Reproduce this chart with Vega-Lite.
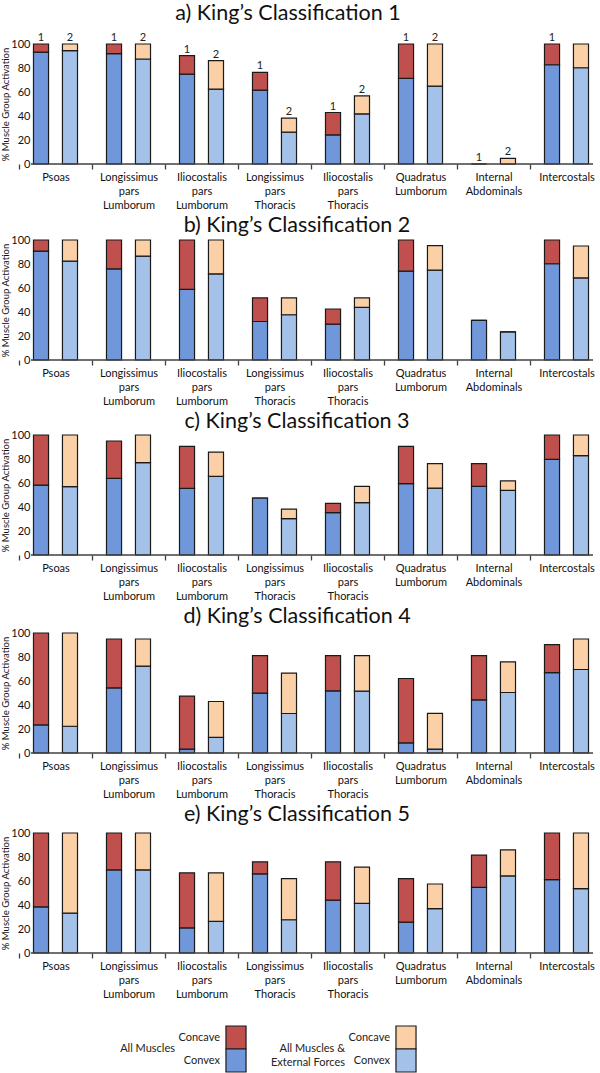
{
  "$schema": "https://vega.github.io/schema/vega-lite/v6.json",
  "padding": {"left": 0, "top": 2, "right": 0, "bottom": 0},
  "spacing": 4,
  "datasets": {
    "bars": [
      {"c": "a", "m": "Psoas", "s": "1", "convex": 93.3, "total": 100, "label": "1"},
      {"c": "a", "m": "Psoas", "s": "2", "convex": 94.4, "total": 100, "label": "2"},
      {"c": "a", "m": "Longissimus pars Lumborum", "s": "1", "convex": 91.9, "total": 100, "label": "1"},
      {"c": "a", "m": "Longissimus pars Lumborum", "s": "2", "convex": 87.5, "total": 100, "label": "2"},
      {"c": "a", "m": "Iliocostalis pars Lumborum", "s": "1", "convex": 74.9, "total": 90.3, "label": "1"},
      {"c": "a", "m": "Iliocostalis pars Lumborum", "s": "2", "convex": 62.4, "total": 86.1, "label": "2"},
      {"c": "a", "m": "Longissimus pars Thoracis", "s": "1", "convex": 61.6, "total": 76.3, "label": "1"},
      {"c": "a", "m": "Longissimus pars Thoracis", "s": "2", "convex": 26.5, "total": 38.2, "label": "2"},
      {"c": "a", "m": "Iliocostalis pars Thoracis", "s": "1", "convex": 24.2, "total": 42.9, "label": "1"},
      {"c": "a", "m": "Iliocostalis pars Thoracis", "s": "2", "convex": 41.8, "total": 56.8, "label": "2"},
      {"c": "a", "m": "Quadratus Lumborum", "s": "1", "convex": 71.3, "total": 100, "label": "1"},
      {"c": "a", "m": "Quadratus Lumborum", "s": "2", "convex": 64.9, "total": 100, "label": "2"},
      {"c": "a", "m": "Internal Abdominals", "s": "1", "convex": 0, "total": 0, "label": "1"},
      {"c": "a", "m": "Internal Abdominals", "s": "2", "convex": 0, "total": 4.7, "label": "2"},
      {"c": "a", "m": "Intercostals", "s": "1", "convex": 82.7, "total": 100, "label": "1"},
      {"c": "a", "m": "Intercostals", "s": "2", "convex": 80.2, "total": 100},

      {"c": "b", "m": "Psoas", "s": "1", "convex": 90.8, "total": 100},
      {"c": "b", "m": "Psoas", "s": "2", "convex": 82.4, "total": 100},
      {"c": "b", "m": "Longissimus pars Lumborum", "s": "1", "convex": 76.0, "total": 100},
      {"c": "b", "m": "Longissimus pars Lumborum", "s": "2", "convex": 86.6, "total": 100},
      {"c": "b", "m": "Iliocostalis pars Lumborum", "s": "1", "convex": 58.9, "total": 100},
      {"c": "b", "m": "Iliocostalis pars Lumborum", "s": "2", "convex": 71.8, "total": 100},
      {"c": "b", "m": "Longissimus pars Thoracis", "s": "1", "convex": 32.1, "total": 51.7},
      {"c": "b", "m": "Longissimus pars Thoracis", "s": "2", "convex": 37.7, "total": 51.7},
      {"c": "b", "m": "Iliocostalis pars Thoracis", "s": "1", "convex": 29.9, "total": 42.5},
      {"c": "b", "m": "Iliocostalis pars Thoracis", "s": "2", "convex": 43.9, "total": 51.7},
      {"c": "b", "m": "Quadratus Lumborum", "s": "1", "convex": 74.0, "total": 100},
      {"c": "b", "m": "Quadratus Lumborum", "s": "2", "convex": 74.9, "total": 95.3},
      {"c": "b", "m": "Internal Abdominals", "s": "1", "convex": 33.0, "total": 33.0},
      {"c": "b", "m": "Internal Abdominals", "s": "2", "convex": 23.5, "total": 23.5},
      {"c": "b", "m": "Intercostals", "s": "1", "convex": 80.2, "total": 100},
      {"c": "b", "m": "Intercostals", "s": "2", "convex": 68.4, "total": 95.0},

      {"c": "c", "m": "Psoas", "s": "1", "convex": 58.3, "total": 100},
      {"c": "c", "m": "Psoas", "s": "2", "convex": 56.9, "total": 100},
      {"c": "c", "m": "Longissimus pars Lumborum", "s": "1", "convex": 63.9, "total": 95.0},
      {"c": "c", "m": "Longissimus pars Lumborum", "s": "2", "convex": 76.9, "total": 100},
      {"c": "c", "m": "Iliocostalis pars Lumborum", "s": "1", "convex": 55.6, "total": 90.6},
      {"c": "c", "m": "Iliocostalis pars Lumborum", "s": "2", "convex": 65.6, "total": 85.8},
      {"c": "c", "m": "Longissimus pars Thoracis", "s": "1", "convex": 47.5, "total": 47.5},
      {"c": "c", "m": "Longissimus pars Thoracis", "s": "2", "convex": 30.3, "total": 38.3},
      {"c": "c", "m": "Iliocostalis pars Thoracis", "s": "1", "convex": 35.3, "total": 43.1},
      {"c": "c", "m": "Iliocostalis pars Thoracis", "s": "2", "convex": 43.6, "total": 57.2},
      {"c": "c", "m": "Quadratus Lumborum", "s": "1", "convex": 59.4, "total": 90.6},
      {"c": "c", "m": "Quadratus Lumborum", "s": "2", "convex": 55.8, "total": 76.1},
      {"c": "c", "m": "Internal Abdominals", "s": "1", "convex": 57.2, "total": 76.1},
      {"c": "c", "m": "Internal Abdominals", "s": "2", "convex": 53.9, "total": 61.7},
      {"c": "c", "m": "Intercostals", "s": "1", "convex": 79.7, "total": 100},
      {"c": "c", "m": "Intercostals", "s": "2", "convex": 82.8, "total": 100},

      {"c": "d", "m": "Psoas", "s": "1", "convex": 23.4, "total": 100},
      {"c": "d", "m": "Psoas", "s": "2", "convex": 22.3, "total": 100},
      {"c": "d", "m": "Longissimus pars Lumborum", "s": "1", "convex": 54.3, "total": 95.0},
      {"c": "d", "m": "Longissimus pars Lumborum", "s": "2", "convex": 72.4, "total": 95.0},
      {"c": "d", "m": "Iliocostalis pars Lumborum", "s": "1", "convex": 3.3, "total": 47.4},
      {"c": "d", "m": "Iliocostalis pars Lumborum", "s": "2", "convex": 13.1, "total": 42.9},
      {"c": "d", "m": "Longissimus pars Thoracis", "s": "1", "convex": 49.9, "total": 81.1},
      {"c": "d", "m": "Longissimus pars Thoracis", "s": "2", "convex": 32.9, "total": 66.6},
      {"c": "d", "m": "Iliocostalis pars Thoracis", "s": "1", "convex": 51.8, "total": 81.1},
      {"c": "d", "m": "Iliocostalis pars Thoracis", "s": "2", "convex": 51.5, "total": 81.1},
      {"c": "d", "m": "Quadratus Lumborum", "s": "1", "convex": 8.4, "total": 62.1},
      {"c": "d", "m": "Quadratus Lumborum", "s": "2", "convex": 3.3, "total": 33.1},
      {"c": "d", "m": "Internal Abdominals", "s": "1", "convex": 44.3, "total": 81.1},
      {"c": "d", "m": "Internal Abdominals", "s": "2", "convex": 50.4, "total": 76.0},
      {"c": "d", "m": "Intercostals", "s": "1", "convex": 66.9, "total": 90.3},
      {"c": "d", "m": "Intercostals", "s": "2", "convex": 69.6, "total": 95.0},

      {"c": "e", "m": "Psoas", "s": "1", "convex": 38.5, "total": 100},
      {"c": "e", "m": "Psoas", "s": "2", "convex": 33.2, "total": 100},
      {"c": "e", "m": "Longissimus pars Lumborum", "s": "1", "convex": 69.3, "total": 100},
      {"c": "e", "m": "Longissimus pars Lumborum", "s": "2", "convex": 69.3, "total": 100},
      {"c": "e", "m": "Iliocostalis pars Lumborum", "s": "1", "convex": 20.9, "total": 66.8},
      {"c": "e", "m": "Iliocostalis pars Lumborum", "s": "2", "convex": 26.3, "total": 66.8},
      {"c": "e", "m": "Longissimus pars Thoracis", "s": "1", "convex": 65.9, "total": 76.0},
      {"c": "e", "m": "Longissimus pars Thoracis", "s": "2", "convex": 27.7, "total": 62.0},
      {"c": "e", "m": "Iliocostalis pars Thoracis", "s": "1", "convex": 44.1, "total": 76.0},
      {"c": "e", "m": "Iliocostalis pars Thoracis", "s": "2", "convex": 41.3, "total": 71.5},
      {"c": "e", "m": "Quadratus Lumborum", "s": "1", "convex": 25.7, "total": 62.0},
      {"c": "e", "m": "Quadratus Lumborum", "s": "2", "convex": 36.9, "total": 57.5},
      {"c": "e", "m": "Internal Abdominals", "s": "1", "convex": 54.7, "total": 81.6},
      {"c": "e", "m": "Internal Abdominals", "s": "2", "convex": 64.2, "total": 86.0},
      {"c": "e", "m": "Intercostals", "s": "1", "convex": 61.2, "total": 100},
      {"c": "e", "m": "Intercostals", "s": "2", "convex": 53.6, "total": 100}
    ],
    "legend": [
      {"g": "All Muscles", "p": "Concave"},
      {"g": "All Muscles", "p": "Convex"},
      {"g": "All Muscles & External Forces", "p": "Concave"},
      {"g": "All Muscles & External Forces", "p": "Convex"}
    ],
    "legendGroups": [
      {"g": "All Muscles", "label": "All Muscles"},
      {"g": "All Muscles & External Forces", "label": "All Muscles &\nExternal Forces"}
    ]
  },
  "vconcat": [
    {
      "width": 562, "height": 120,
      "title": {"text": "a) King’s Classification 1", "offset": 8, "dx": -24},
      "data": {"name": "bars"},
      "transform": [{"filter": "datum.c === 'a'"}],
      "layer": [
        {"mark": {"type": "bar", "stroke": "#1a1a1a", "strokeWidth": 1.2},
         "encoding": {
           "x": {"field": "m", "type": "nominal", "sort": ["Psoas", "Longissimus pars Lumborum", "Iliocostalis pars Lumborum", "Longissimus pars Thoracis", "Iliocostalis pars Thoracis", "Quadratus Lumborum", "Internal Abdominals", "Intercostals"], "scale": {"range": [-12, 572], "paddingInner": 0, "paddingOuter": 0}, "axis": {"title": null, "domain": false, "tickBand": "extent", "tickSize": 5, "tickColor": "#404040", "tickWidth": 1.3, "labelAngle": 0, "labelExpr": "split(datum.label, ' ')", "labelFontSize": 11, "labelLineHeight": 14, "labelPadding": 2}},
           "xOffset": {"field": "s", "type": "nominal", "scale": {"paddingInner": 0.48, "paddingOuter": 0.5}},
           "y": {"field": "convex", "type": "quantitative", "stack": null, "scale": {"domain": [0, 100]}, "axis": {"values": [0, 20, 40, 60, 80, 100], "labelOverlap": false, "labelFontSize": 11, "labelPadding": 1, "titlePadding": 0, "title": "% Muscle Group Activation"}},
           "color": {"condition": {"test": "datum.s === '1'", "value": "#6f97da"}, "value": "#a3c1e9"}
         }},
        {"mark": {"type": "bar", "stroke": "#1a1a1a", "strokeWidth": 1.2},
         "encoding": {
           "x": {"field": "m", "type": "nominal", "sort": ["Psoas", "Longissimus pars Lumborum", "Iliocostalis pars Lumborum", "Longissimus pars Thoracis", "Iliocostalis pars Thoracis", "Quadratus Lumborum", "Internal Abdominals", "Intercostals"]},
           "xOffset": {"field": "s", "type": "nominal"},
           "y": {"field": "convex", "type": "quantitative", "stack": null, "axis": {"values": [0, 20, 40, 60, 80, 100], "labelOverlap": false, "labelFontSize": 11, "labelPadding": 1, "titlePadding": 0, "title": "% Muscle Group Activation"}},
           "y2": {"field": "total"},
           "color": {"condition": {"test": "datum.s === '1'", "value": "#c0504d"}, "value": "#fbd0a6"}
         }},
        {"transform": [{"filter": "isValid(datum.label)"}],
         "mark": {"type": "text", "baseline": "bottom", "dy": -1, "fontSize": 11, "color": "#222"},
         "encoding": {
           "x": {"field": "m", "type": "nominal", "sort": ["Psoas", "Longissimus pars Lumborum", "Iliocostalis pars Lumborum", "Longissimus pars Thoracis", "Iliocostalis pars Thoracis", "Quadratus Lumborum", "Internal Abdominals", "Intercostals"]},
           "xOffset": {"field": "s", "type": "nominal"},
           "y": {"field": "total", "type": "quantitative", "stack": null, "axis": {"values": [0, 20, 40, 60, 80, 100], "labelOverlap": false, "labelFontSize": 11, "labelPadding": 1, "titlePadding": 0, "title": "% Muscle Group Activation"}},
           "text": {"field": "label"}
         }},
        {"data": {"values": [{}]}, "mark": {"type": "rule", "color": "#404040", "strokeWidth": 1.3}, "encoding": {"y": {"datum": 0, "axis": {"values": [0, 20, 40, 60, 80, 100], "labelOverlap": false, "labelFontSize": 11, "labelPadding": 1, "titlePadding": 0, "title": "% Muscle Group Activation"}}}}
      ]
    },
    {
      "width": 562, "height": 120,
      "title": {"text": "b) King’s Classification 2", "offset": -2, "dx": -15},
      "data": {"name": "bars"},
      "transform": [{"filter": "datum.c === 'b'"}],
      "layer": [
        {"mark": {"type": "bar", "stroke": "#1a1a1a", "strokeWidth": 1.2},
         "encoding": {
           "x": {"field": "m", "type": "nominal", "sort": ["Psoas", "Longissimus pars Lumborum", "Iliocostalis pars Lumborum", "Longissimus pars Thoracis", "Iliocostalis pars Thoracis", "Quadratus Lumborum", "Internal Abdominals", "Intercostals"], "scale": {"range": [-12, 572], "paddingInner": 0, "paddingOuter": 0}, "axis": {"title": null, "domain": false, "tickBand": "extent", "tickSize": 5, "tickColor": "#404040", "tickWidth": 1.3, "labelAngle": 0, "labelExpr": "split(datum.label, ' ')", "labelFontSize": 11, "labelLineHeight": 14, "labelPadding": 2}},
           "xOffset": {"field": "s", "type": "nominal", "scale": {"paddingInner": 0.48, "paddingOuter": 0.5}},
           "y": {"field": "convex", "type": "quantitative", "stack": null, "scale": {"domain": [0, 100]}, "axis": {"values": [0, 20, 40, 60, 80, 100], "labelOverlap": false, "labelFontSize": 11, "labelPadding": 1, "titlePadding": 0, "title": "% Muscle Group Activation"}},
           "color": {"condition": {"test": "datum.s === '1'", "value": "#6f97da"}, "value": "#a3c1e9"}
         }},
        {"mark": {"type": "bar", "stroke": "#1a1a1a", "strokeWidth": 1.2},
         "encoding": {
           "x": {"field": "m", "type": "nominal", "sort": ["Psoas", "Longissimus pars Lumborum", "Iliocostalis pars Lumborum", "Longissimus pars Thoracis", "Iliocostalis pars Thoracis", "Quadratus Lumborum", "Internal Abdominals", "Intercostals"]},
           "xOffset": {"field": "s", "type": "nominal"},
           "y": {"field": "convex", "type": "quantitative", "stack": null, "axis": {"values": [0, 20, 40, 60, 80, 100], "labelOverlap": false, "labelFontSize": 11, "labelPadding": 1, "titlePadding": 0, "title": "% Muscle Group Activation"}},
           "y2": {"field": "total"},
           "color": {"condition": {"test": "datum.s === '1'", "value": "#c0504d"}, "value": "#fbd0a6"}
         }},
        {"data": {"values": [{}]}, "mark": {"type": "rule", "color": "#404040", "strokeWidth": 1.3}, "encoding": {"y": {"datum": 0, "axis": {"values": [0, 20, 40, 60, 80, 100], "labelOverlap": false, "labelFontSize": 11, "labelPadding": 1, "titlePadding": 0, "title": "% Muscle Group Activation"}}}}
      ]
    },
    {
      "width": 562, "height": 120,
      "title": {"text": "c) King’s Classification 3", "offset": -3, "dx": -15},
      "data": {"name": "bars"},
      "transform": [{"filter": "datum.c === 'c'"}],
      "layer": [
        {"mark": {"type": "bar", "stroke": "#1a1a1a", "strokeWidth": 1.2},
         "encoding": {
           "x": {"field": "m", "type": "nominal", "sort": ["Psoas", "Longissimus pars Lumborum", "Iliocostalis pars Lumborum", "Longissimus pars Thoracis", "Iliocostalis pars Thoracis", "Quadratus Lumborum", "Internal Abdominals", "Intercostals"], "scale": {"range": [-12, 572], "paddingInner": 0, "paddingOuter": 0}, "axis": {"title": null, "domain": false, "tickBand": "extent", "tickSize": 5, "tickColor": "#404040", "tickWidth": 1.3, "labelAngle": 0, "labelExpr": "split(datum.label, ' ')", "labelFontSize": 11, "labelLineHeight": 14, "labelPadding": 2}},
           "xOffset": {"field": "s", "type": "nominal", "scale": {"paddingInner": 0.48, "paddingOuter": 0.5}},
           "y": {"field": "convex", "type": "quantitative", "stack": null, "scale": {"domain": [0, 100]}, "axis": {"values": [0, 20, 40, 60, 80, 100], "labelOverlap": false, "labelFontSize": 11, "labelPadding": 1, "titlePadding": 0, "title": "% Muscle Group Activation"}},
           "color": {"condition": {"test": "datum.s === '1'", "value": "#6f97da"}, "value": "#a3c1e9"}
         }},
        {"mark": {"type": "bar", "stroke": "#1a1a1a", "strokeWidth": 1.2},
         "encoding": {
           "x": {"field": "m", "type": "nominal", "sort": ["Psoas", "Longissimus pars Lumborum", "Iliocostalis pars Lumborum", "Longissimus pars Thoracis", "Iliocostalis pars Thoracis", "Quadratus Lumborum", "Internal Abdominals", "Intercostals"]},
           "xOffset": {"field": "s", "type": "nominal"},
           "y": {"field": "convex", "type": "quantitative", "stack": null, "axis": {"values": [0, 20, 40, 60, 80, 100], "labelOverlap": false, "labelFontSize": 11, "labelPadding": 1, "titlePadding": 0, "title": "% Muscle Group Activation"}},
           "y2": {"field": "total"},
           "color": {"condition": {"test": "datum.s === '1'", "value": "#c0504d"}, "value": "#fbd0a6"}
         }},
        {"data": {"values": [{}]}, "mark": {"type": "rule", "color": "#404040", "strokeWidth": 1.3}, "encoding": {"y": {"datum": 0, "axis": {"values": [0, 20, 40, 60, 80, 100], "labelOverlap": false, "labelFontSize": 11, "labelPadding": 1, "titlePadding": 0, "title": "% Muscle Group Activation"}}}}
      ]
    },
    {
      "width": 562, "height": 120,
      "title": {"text": "d) King’s Classification 4", "offset": 0, "dx": -15},
      "data": {"name": "bars"},
      "transform": [{"filter": "datum.c === 'd'"}],
      "layer": [
        {"mark": {"type": "bar", "stroke": "#1a1a1a", "strokeWidth": 1.2},
         "encoding": {
           "x": {"field": "m", "type": "nominal", "sort": ["Psoas", "Longissimus pars Lumborum", "Iliocostalis pars Lumborum", "Longissimus pars Thoracis", "Iliocostalis pars Thoracis", "Quadratus Lumborum", "Internal Abdominals", "Intercostals"], "scale": {"range": [-12, 572], "paddingInner": 0, "paddingOuter": 0}, "axis": {"title": null, "domain": false, "tickBand": "extent", "tickSize": 5, "tickColor": "#404040", "tickWidth": 1.3, "labelAngle": 0, "labelExpr": "split(datum.label, ' ')", "labelFontSize": 11, "labelLineHeight": 14, "labelPadding": 2}},
           "xOffset": {"field": "s", "type": "nominal", "scale": {"paddingInner": 0.48, "paddingOuter": 0.5}},
           "y": {"field": "convex", "type": "quantitative", "stack": null, "scale": {"domain": [0, 100]}, "axis": {"values": [0, 20, 40, 60, 80, 100], "labelOverlap": false, "labelFontSize": 11, "labelPadding": 1, "titlePadding": 0, "title": "% Muscle Group Activation"}},
           "color": {"condition": {"test": "datum.s === '1'", "value": "#6f97da"}, "value": "#a3c1e9"}
         }},
        {"mark": {"type": "bar", "stroke": "#1a1a1a", "strokeWidth": 1.2},
         "encoding": {
           "x": {"field": "m", "type": "nominal", "sort": ["Psoas", "Longissimus pars Lumborum", "Iliocostalis pars Lumborum", "Longissimus pars Thoracis", "Iliocostalis pars Thoracis", "Quadratus Lumborum", "Internal Abdominals", "Intercostals"]},
           "xOffset": {"field": "s", "type": "nominal"},
           "y": {"field": "convex", "type": "quantitative", "stack": null, "axis": {"values": [0, 20, 40, 60, 80, 100], "labelOverlap": false, "labelFontSize": 11, "labelPadding": 1, "titlePadding": 0, "title": "% Muscle Group Activation"}},
           "y2": {"field": "total"},
           "color": {"condition": {"test": "datum.s === '1'", "value": "#c0504d"}, "value": "#fbd0a6"}
         }},
        {"data": {"values": [{}]}, "mark": {"type": "rule", "color": "#404040", "strokeWidth": 1.3}, "encoding": {"y": {"datum": 0, "axis": {"values": [0, 20, 40, 60, 80, 100], "labelOverlap": false, "labelFontSize": 11, "labelPadding": 1, "titlePadding": 0, "title": "% Muscle Group Activation"}}}}
      ]
    },
    {
      "width": 562, "height": 120,
      "title": {"text": "e) King’s Classification 5", "offset": 2, "dx": -15},
      "data": {"name": "bars"},
      "transform": [{"filter": "datum.c === 'e'"}],
      "layer": [
        {"mark": {"type": "bar", "stroke": "#1a1a1a", "strokeWidth": 1.2},
         "encoding": {
           "x": {"field": "m", "type": "nominal", "sort": ["Psoas", "Longissimus pars Lumborum", "Iliocostalis pars Lumborum", "Longissimus pars Thoracis", "Iliocostalis pars Thoracis", "Quadratus Lumborum", "Internal Abdominals", "Intercostals"], "scale": {"range": [-12, 572], "paddingInner": 0, "paddingOuter": 0}, "axis": {"title": null, "domain": false, "tickBand": "extent", "tickSize": 5, "tickColor": "#404040", "tickWidth": 1.3, "labelAngle": 0, "labelExpr": "split(datum.label, ' ')", "labelFontSize": 11, "labelLineHeight": 14, "labelPadding": 2}},
           "xOffset": {"field": "s", "type": "nominal", "scale": {"paddingInner": 0.48, "paddingOuter": 0.5}},
           "y": {"field": "convex", "type": "quantitative", "stack": null, "scale": {"domain": [0, 100]}, "axis": {"values": [0, 20, 40, 60, 80, 100], "labelOverlap": false, "labelFontSize": 11, "labelPadding": 1, "titlePadding": 0, "title": "% Muscle Group Activation"}},
           "color": {"condition": {"test": "datum.s === '1'", "value": "#6f97da"}, "value": "#a3c1e9"}
         }},
        {"mark": {"type": "bar", "stroke": "#1a1a1a", "strokeWidth": 1.2},
         "encoding": {
           "x": {"field": "m", "type": "nominal", "sort": ["Psoas", "Longissimus pars Lumborum", "Iliocostalis pars Lumborum", "Longissimus pars Thoracis", "Iliocostalis pars Thoracis", "Quadratus Lumborum", "Internal Abdominals", "Intercostals"]},
           "xOffset": {"field": "s", "type": "nominal"},
           "y": {"field": "convex", "type": "quantitative", "stack": null, "axis": {"values": [0, 20, 40, 60, 80, 100], "labelOverlap": false, "labelFontSize": 11, "labelPadding": 1, "titlePadding": 0, "title": "% Muscle Group Activation"}},
           "y2": {"field": "total"},
           "color": {"condition": {"test": "datum.s === '1'", "value": "#c0504d"}, "value": "#fbd0a6"}
         }},
        {"data": {"values": [{}]}, "mark": {"type": "rule", "color": "#404040", "strokeWidth": 1.3}, "encoding": {"y": {"datum": 0, "axis": {"values": [0, 20, 40, 60, 80, 100], "labelOverlap": false, "labelFontSize": 11, "labelPadding": 1, "titlePadding": 0, "title": "% Muscle Group Activation"}}}}
      ]
    },
    {
      "width": 562, "height": 69,
      "layer": [
        {"data": {"name": "legend"},
         "mark": {"type": "bar", "stroke": "#1a1a1a", "strokeWidth": 1.2},
         "encoding": {
           "x": {"field": "g", "type": "nominal", "scale": {"domain": ["All Muscles", "All Muscles & External Forces"], "range": [120, 460], "paddingInner": 0.882, "paddingOuter": 0.441}, "axis": null},
           "y": {"field": "p", "type": "nominal", "scale": {"domain": ["Concave", "Convex"], "range": [23, 69], "paddingInner": 0, "paddingOuter": 0}, "axis": null},
           "color": {"condition": [
             {"test": "datum.g === 'All Muscles' && datum.p === 'Concave'", "value": "#c0504d"},
             {"test": "datum.g === 'All Muscles' && datum.p === 'Convex'", "value": "#6f97da"},
             {"test": "datum.p === 'Concave'", "value": "#fbd0a6"}
           ], "value": "#a3c1e9"}
         }},
        {"data": {"name": "legend"},
         "mark": {"type": "text", "align": "right", "dx": -16, "fontSize": 11, "color": "#222"},
         "encoding": {
           "x": {"field": "g", "type": "nominal"},
           "y": {"field": "p", "type": "nominal"},
           "text": {"field": "p"}
         }},
        {"data": {"name": "legendGroups"},
         "mark": {"type": "text", "align": "right", "dx": -61, "fontSize": 11, "lineBreak": "\n", "lineHeight": 14, "color": "#222"},
         "encoding": {
           "x": {"field": "g", "type": "nominal"},
           "y": {"datum": "Concave", "type": "nominal", "bandPosition": 1},
           "text": {"field": "label"}
         }}
      ]
    }
  ],
  "config": {
    "font": "Lato",
    "view": {"stroke": null},
    "title": {"fontSize": 21.5, "fontWeight": 400, "font": "Lato", "color": "#111", "anchor": "middle"},
    "axis": {"labelFont": "Lato", "titleFont": "Lato", "labelColor": "#111", "titleColor": "#111", "grid": false},
    "axisY": {"labelOverlap": false, "labelFlush": false, "ticks": false, "domain": false, "labelFontSize": 11, "labelPadding": 1, "titleFontSize": 9.5, "titleFontWeight": "normal", "titlePadding": 0},
    "text": {"font": "Lato"}
  }
}
